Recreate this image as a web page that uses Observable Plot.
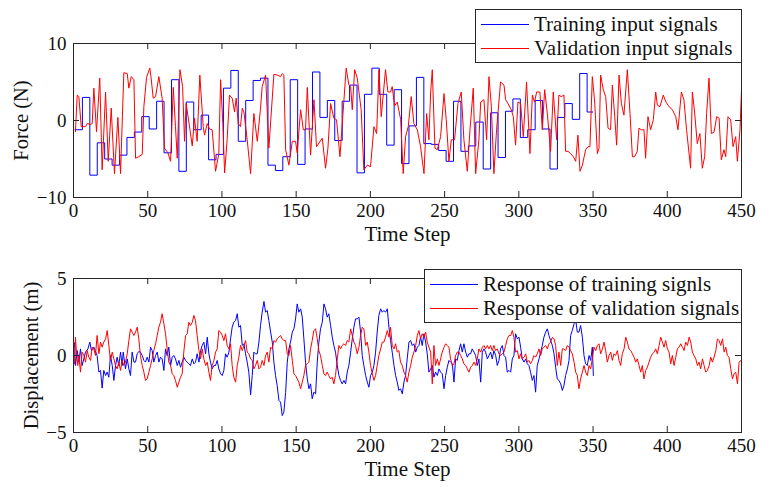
<!DOCTYPE html>
<html>
<head>
<meta charset="utf-8">
<script src="https://cdn.jsdelivr.net/npm/d3@7"></script>
<script src="https://cdn.jsdelivr.net/npm/@observablehq/plot@0.6"></script>
<style>
  html, body { margin: 0; padding: 0; background: #fff; }
  #wrap { position: relative; width: 758px; height: 487px; background: #fff; overflow: hidden; }
  #wrap svg { position: absolute; left: 0; }
  .legend { position: absolute; background: #fff; border: 1px solid #262626; box-sizing: border-box;
            font-family: "Liberation Serif", serif; font-size: 21px; color: #111; }
  .legend .row { position: absolute; left: 0; height: 25px; display: flex; align-items: center; white-space: nowrap; }
  .legend .sw { display: inline-block; width: 48px; height: 1px; margin-left: 5px; margin-right: 5px; }
</style>
</head>
<body>
<div id="wrap"></div>
<script>
// ---------- tick labels / names ----------
const xTicks = [0, 50, 100, 150, 200, 250, 300, 350, 400, 450];
const forceTicks = [-10, 0, 10];
const dispTicks = [-5, 0, 5];
const topNames = ["Training input signals", "Validation input signals"];
const bottomNames = ["Response of training signls", "Response of validation signals"];
const seriesColors = ["#0000ff", "#ff0000"];

// ---------- top panel: training input (held steps: [start step, force]) ----------
const trainInput = [
[1,-1.2],[6,3.0],[11,-7.1],[16,-2.9],[21,-5.0],[26,-5.8],[31,-4.5],[36,-2.2],[41,-1.5],[46,0.5],
[51,-1.1],[56,2.5],[61,-4.2],[66,5.3],[71,-6.6],[76,2.4],[81,-1.2],[86,0.7],[91,-5.1],[96,-4.4],
[101,4.2],[106,6.5],[111,-2.7],[116,2.6],[121,5.2],[126,5.5],[131,-5.8],[136,-6.5],[141,-4.7],[146,5.3],
[151,-5.7],[156,-1.1],[161,6.3],[166,0.4],[171,2.6],[176,-2.6],[181,2.5],[186,4.6],[191,-6.8],[196,3.4],
[201,6.8],[206,3.4],[211,-3.2],[216,4.0],[221,-5.6],[226,-0.7],[231,5.6],[236,-3.0],[241,-3.1],[246,-3.9],
[251,-5.3],[256,2.5],[261,-4.0],[266,-3.3],[271,-0.2],[276,-6.3],[281,1.0],[286,-4.8],[291,1.2],[296,2.8],
[301,-2.2],[306,-1.2],[311,2.6],[316,-1.1],[321,-6.3],[326,0.4],[331,2.2],[336,0.15],[341,6.1],[346,1.1],[350,1.1]
];

// ---------- top panel: validation input ([step, force]) ----------
const validationInput = [
[1.3,-1.45],[2.5,3.3],[3.6,3.1],[5.2,-0.8],[8.1,-0.8],[9.2,-0.4],[11.5,-0.5],[12.6,-0.4],[13.7,4.2],[15.5,-1.45],
[17.7,5.5],[19.3,-6.4],[21.6,3.7],[23.4,-5.3],[25.4,1.6],[27.6,-6.9],[29.9,0.4],[31.7,-6.9],[33.9,6.2],[36.2,6.1],
[37.3,4.2],[38.9,5.7],[40.7,5.3],[41.8,-4.9],[44.0,-4.7],[46.3,-4.4],[47.4,1.8],[49.2,5.6],[51.4,6.8],[52.3,5.5],
[53.7,2.9],[55.3,3.1],[57.5,5.7],[59.7,2.9],[61.3,-3.6],[63.6,-4.2],[65.4,-5.3],[67.2,4.3],[68.7,-0.8],[69.9,-4.9],
[71.7,6.6],[73.5,4.4],[74.8,-2.7],[75.9,2.2],[77.7,-0.2],[80.0,-3.3],[81.5,0.3],[83.3,-2.7],[85.1,5.9],[87.4,-0.8],
[88.3,-1.9],[90.1,-0.4],[91.6,-1.1],[93.4,-1.2],[95.7,-6.6],[97.9,-4.3],[99.1,5.3],[100.6,-0.4],[101.8,-6.8],[103.5,-2.5],
[105.1,3.3],[106.9,2.9],[108.5,1.1],[109.6,2.9],[111.0,-0.4],[112.5,-0.8],[113.7,1.6],[114.8,1.1],[117.0,-2.5],[119.3,-6.9],
[121.5,0.9],[123.8,-2.7],[126.0,1.6],[127.1,4.4],[129.4,5.9],[131.6,-3.6],[135.0,6.0],[137.2,5.9],[139.5,5.7],[140.6,6.1],
[141.7,5.9],[142.9,-3.8],[145.1,-5.8],[147.4,-2.7],[149.6,-2.7],[150.7,-4.2],[153.0,1.4],[154.8,-1.2],[156.3,-1.2],[157.5,4.3],
[159.7,-4.5],[162.0,2.7],[163.7,-3.4],[167.6,-2.3],[169.8,-6.2],[171.4,-3.6],[173.2,2.2],[175.4,0.3],[177.2,0.1],[179.5,-4.7],
[182.2,2.7],[183.7,6.8],[185.5,4.6],[186.7,4.4],[187.8,1.4],[189.4,6.6],[191.2,5.5],[192.3,3.7],[193.8,1.4],[195.6,-6.4],
[197.9,-5.8],[200.1,-6.0],[202.4,-0.8],[204.2,-1.7],[205.8,6.6],[207.3,0.5],[210.2,6.6],[211.8,3.7],[213.6,3.7],[214.7,4.4],
[216.3,1.9],[218.1,2.4],[220.4,0.1],[222.1,-6.9],[223.7,-2.1],[225.5,-0.8],[227.5,3.1],[229.3,-0.4],[231.6,-1.2],[233.8,-3.4],
[236.1,-6.9],[237.9,0.9],[239.4,-2.5],[240.6,3.7],[241.7,6.6],[243.5,-3.6],[245.1,-3.8],[247.3,-2.1],[249.6,3.5],[251.1,0.1],
[252.9,-5.3],[254.5,-2.5],[256.7,-2.5],[259.0,2.2],[261.2,3.7],[263.0,-2.5],[265.3,-6.6],[267.1,-1.2],[269.3,4.2],[270.9,-6.9],
[273.1,-2.5],[274.3,2.4],[276.5,2.7],[278.3,-2.5],[279.9,5.7],[281.5,1.8],[283.2,-6.9],[285.0,-1.2],[287.7,5.0],[290.0,4.6],
[291.1,2.7],[293.3,2.0],[294.9,1.4],[296.3,0.5],[297.8,-3.2],[299.4,2.4],[301.2,2.2],[303.0,-2.1],[305.2,5.0],[307.5,-4.3],
[309.1,3.3],[310.6,2.4],[312.0,3.7],[314.2,3.7],[315.8,-1.2],[317.4,4.0],[319.2,0.9],[321.4,-4.0],[323.2,3.7],[325.5,-2.5],
[327.0,3.3],[328.6,3.1],[330.4,3.3],[331.5,-4.0],[333.1,-4.0],[334.9,-4.3],[336.7,-4.7],[338.3,-5.3],[339.8,-1.9],[341.2,-6.6],
[342.8,-5.8],[345.0,-3.8],[346.6,-3.4],[347.9,-3.4],[349.5,5.7],[351.1,2.4],[352.9,-4.3],[354.0,-3.6],[355.1,5.9],[356.9,4.0],
[358.5,3.1],[360.1,-1.0],[361.8,-1.2],[363.0,4.6],[364.6,0.5],[365.9,-3.2],[367.5,5.9],[369.1,2.2],[370.8,0.7],[373.1,6.6],
[374.9,0.9],[376.5,-4.7],[378.0,-4.7],[379.8,-4.0],[380.9,-1.0],[382.5,-1.2],[384.3,-1.2],[385.4,-4.9],[387.0,0.5],[388.8,-1.2],
[390.6,0.1],[392.2,3.7],[393.3,2.0],[395.1,1.8],[397.3,3.3],[399.1,2.4],[401.2,1.8],[403.4,1.4],[405.7,0.5],[407.2,-1.2],
[409.5,3.7],[411.2,2.7],[413.0,-1.2],[415.7,-6.2],[416.9,3.7],[418.4,1.1],[420.2,-3.0],[422.0,-1.7],[423.6,-6.2],[425.2,-4.7],
[426.5,0.9],[428.1,5.5],[429.7,-1.7],[431.5,-1.5],[433.3,0.5],[434.9,0.3],[436.4,-5.1],[438.2,-3.8],[439.4,-4.7],[440.9,0.5],
[442.7,0.1],[444.3,-3.4],[446.1,-2.1],[447.2,-5.3],[449.0,-1.2],[450,4.0]
];

// ---------- bottom panel: response of training signals ([step, displacement]) ----------
const trainResponse = [
[0.7,0.82],[1.3,-0.65],[2.5,0.32],[3.6,-0.43],[4.7,0.43],[5.8,-0.65],[8.1,0.22],[9.7,0.43],[11.0,0.87],[12.1,0.32],
[13.7,0.54],[15.9,0],[17.1,-1.08],[18.2,-0.97],[19.3,-2.12],[20.4,-0.97],[21.6,-1.30],[22.7,-1.08],[23.8,-1.41],[24.9,0],
[26.1,-0.65],[27.2,-1.62],[28.3,-0.65],[29.4,-0.11],[30.5,-0.65],[31.7,0.22],[32.8,-0.65],[33.5,0.22],[35.0,-0.87],[36.2,-0.22],
[37.3,-0.87],[38.4,-1.30],[39.5,0.22],[40.7,-0.43],[41.8,-0.43],[42.9,0.11],[44.0,0.26],[45.1,0.22],[46.3,0],[47.4,-0.32],
[48.5,-0.43],[49.6,-0.11],[50.8,-0.43],[51.9,0.54],[53.0,0.32],[54.1,-0.43],[55.3,0],[56.4,0.22],[57.5,-0.43],[58.6,-0.11],
[59.7,-0.22],[60.9,-0.97],[62.0,0.43],[63.1,0],[64.2,0.54],[65.4,-0.65],[66.5,-0.11],[67.6,0],[68.7,-0.22],[69.9,-0.65],
[71.0,-0.32],[72.1,-0.76],[73.2,-0.43],[74.3,-0.11],[75.5,-0.32],[76.6,-0.43],[77.7,-0.54],[78.8,-0.65],[80.0,-0.22],[81.1,-0.54],
[82.2,-0.43],[83.3,0.11],[84.5,-0.43],[85.6,0.32],[86.7,0.65],[87.8,0.87],[89.0,0.11],[90.1,1.19],[91.2,0.11],[92.3,-0.43],
[93.4,-0.87],[94.6,-0.65],[95.7,-0.65],[96.8,-0.32],[97.9,-0.87],[99.1,-1.19],[100.2,-1.30],[101.3,-0.97],[102.4,0.11],[103.5,-0.11],
[104.7,0.22],[105.8,1.08],[106.9,1.84],[108.0,2.16],[109.2,2.27],[110.3,2.71],[111.4,1.84],[112.5,1.95],[113.7,0.65],[114.8,0.76],
[115.9,0.11],[117.0,-0.43],[118.1,-1.08],[119.3,-2.55],[120.4,-1.30],[121.5,0.22],[122.6,0.11],[123.8,0.11],[124.9,0.87],[126.0,1.95],
[127.1,2.81],[128.3,3.51],[129.4,2.81],[130.5,2.92],[131.6,2.27],[132.8,1.52],[133.9,0.87],[135.0,-0.43],[136.1,-1.30],[137.2,-1.95],
[138.4,-2.92],[139.5,-3.03],[140.6,-3.90],[141.7,-3.68],[142.9,-2.4],[144.0,-0.43],[145.1,0.43],[146.2,0.87],[147.4,1.52],[148.5,1.73],
[149.6,2.38],[150.7,3.35],[151.8,2.81],[153.0,3.03],[154.1,2.49],[155.2,1.08],[156.3,-0.43],[157.5,-1.52],[158.6,-2.16],[159.7,-1.84],
[160.8,-2.81],[161.9,-2.38],[163.1,-2.49],[164.2,-0.43],[165.3,0.87],[166.4,1.73],[167.6,2.16],[168.7,3.35],[169.8,3.03],[170.9,2.49],
[172.0,2.71],[173.2,1.95],[174.3,1.19],[175.4,0.65],[176.5,0.22],[177.7,-0.65],[178.8,-1.30],[179.9,-1.62],[181.0,-1.84],[182.2,-1.62],
[183.3,-1.84],[184.4,-1.08],[185.5,-0.65],[186.7,0.22],[187.8,1.08],[188.9,1.84],[190.0,2.38],[191.1,2.38],[192.3,2.49],[193.4,1.52],
[194.5,0],[195.6,-0.65],[196.8,-1.30],[197.9,-1.73],[199.0,-2.06],[200.1,-1.30],[201.3,-1.08],[202.4,-0.65],[203.5,0.22],[204.6,1.52],
[205.7,2.60],[206.9,3.03],[208.0,2.81],[209.1,2.92],[210.2,2.81],[211.4,3.03],[212.5,1.84],[213.6,0.97],[214.7,0.22],[215.9,-0.65],
[217.0,-1.30],[218.1,-1.73],[219.2,-2.27],[220.3,-2.16],[221.5,-2.49],[222.6,-1.73],[223.7,-1.30],[224.8,-0.22],[226.0,0.87],[227.1,0.97],
[228.2,0.65],[229.3,0.76],[230.5,0.22],[231.6,0.54],[232.7,0.65],[233.8,1.19],[234.9,0.65],[236.1,1.41],[237.2,0.87],[238.3,0.11],
[239.4,-1.08],[240.6,-0.87],[241.7,-0.65],[242.8,-1.41],[243.9,-1.08],[245.1,-1.30],[246.2,-0.87],[247.3,-1.08],[248.4,-1.19],[249.6,-2.16],
[250.7,-1.30],[251.8,-0.76],[252.9,-0.32],[254.0,-0.43],[255.2,-0.54],[256.3,-1.73],[257.4,-0.22],[258.5,-0.32],[259.7,0.32],[260.8,0.76],
[261.9,0.22],[263.0,0.76],[264.2,0.22],[265.3,-0.11],[266.4,0.11],[267.5,0.11],[268.6,0.43],[269.8,0.22],[270.9,0],[272.0,-0.65],
[273.1,-0.22],[274.3,-1.73],[275.4,0.22],[276.5,0.43],[277.6,0.22],[278.8,-0.22],[279.9,0],[281.0,0.22],[282.1,-0.22],[283.2,0.32],
[284.4,0],[285.5,-0.65],[286.6,-0.32],[287.7,0.43],[288.9,0.65],[290.0,0],[291.1,-0.11],[292.2,-1.08],[293.4,-0.97],[294.5,-1.08],
[295.6,-0.22],[296.7,0],[297.8,1.41],[299.0,1.08],[300.1,1.19],[301.2,0.54],[302.3,-0.22],[303.5,-0.43],[304.6,-0.22],[305.7,-0.54],
[306.8,-0.65],[307.9,-1.08],[309.1,-1.62],[310.2,-1.30],[311.3,-2.38],[312.4,-0.65],[313.6,-0.22],[314.7,0.22],[315.8,0.65],[316.9,1.19],
[318.1,1.52],[319.2,1.73],[320.3,1.30],[321.4,0.97],[322.6,0.65],[323.7,0.11],[324.8,-0.76],[325.9,-1.52],[327.0,-1.62],[328.2,-1.84],
[329.3,-2.27],[330.4,-1.95],[331.5,-1.30],[332.7,-0.87],[333.8,-0.32],[334.9,1.30],[336.0,1.62],[337.2,2.06],[338.3,2.3],[339.4,1.52],
[340.5,1.52],[341.6,1.95],[342.8,1.19],[343.9,0],[345.0,-0.54],[346.1,-0.65],[347.3,0],[348.4,-0.32],[349.5,0.54],[350.2,-1.30]
];

// ---------- bottom panel: response of validation signals ([step, displacement]) ----------
const validationResponse = [
[0.7,-0.54],[1.3,1.19],[2.0,0.22],[2.9,-0.65],[3.6,0],[4.7,-1.08],[5.8,0.22],[7.0,0],[8.1,-0.43],[9.2,0.32],
[10.3,-0.11],[11.5,-0.32],[12.6,0.54],[13.7,0.43],[14.8,0],[15.9,1.30],[17.1,0.11],[18.2,0.87],[19.3,0.54],[20.4,0.87],
[21.6,1.08],[22.7,1.62],[23.8,0.65],[24.9,-0.32],[26.1,0.22],[27.2,-0.22],[28.3,-0.65],[29.4,-0.87],[30.5,-0.43],[31.7,-0.97],
[32.8,-0.32],[33.9,-0.65],[35.0,-0.43],[36.2,0.11],[37.3,0.97],[38.4,1.73],[39.5,1.52],[40.7,1.30],[41.8,1.52],[42.9,1.84],
[44.0,1.08],[45.1,0],[46.3,-0.65],[47.4,-1.08],[48.5,-1.62],[49.6,-1.52],[50.8,-1.08],[51.9,-0.65],[53.0,-0.22],[54.1,0.32],
[55.3,0.76],[56.4,1.30],[57.5,1.84],[58.6,2.16],[59.7,2.71],[60.9,2.06],[62.0,1.41],[63.1,0.43],[64.2,-0.43],[65.4,-0.65],
[66.5,-1.19],[67.6,-1.30],[68.7,-1.62],[69.9,-2.06],[71.0,-1.73],[72.1,-1.41],[73.2,-1.19],[74.3,0.22],[75.5,1.30],[76.6,1.41],
[77.7,2.16],[78.8,1.95],[80.0,2.16],[81.1,2.60],[82.2,2.27],[83.3,1.30],[84.5,0.32],[85.6,-0.22],[86.7,0.43],[87.8,-0.22],
[89.0,-0.65],[90.1,-0.43],[91.2,-1.08],[92.3,-1.62],[93.4,-0.65],[94.6,-0.32],[95.7,0.22],[96.8,0.43],[97.9,1.62],[99.1,1.52],
[100.2,1.30],[101.3,0.97],[102.4,1.41],[103.5,0.65],[104.7,0.43],[105.8,0.76],[106.9,-0.65],[108.0,-1.41],[109.2,-1.73],[110.3,-0.65],
[111.4,-0.11],[112.5,0.65],[113.7,0.32],[114.8,0.65],[115.9,0.97],[117.0,0.22],[118.1,0.11],[119.3,-0.22],[120.4,-0.32],[121.5,-0.87],
[122.6,-0.65],[123.8,-0.32],[124.9,-0.87],[126.0,-0.76],[127.1,-0.32],[128.3,-0.65],[129.4,0],[130.5,0.22],[131.6,-0.43],[132.8,0.54],
[133.9,0.43],[135.0,0.97],[136.1,0.87],[137.2,1.08],[138.4,1.19],[139.5,1.30],[140.6,1.08],[141.7,0.97],[142.9,0.97],[144.0,0.11],
[145.1,0],[146.2,0.65],[147.4,-0.32],[148.5,-1.19],[149.6,-1.30],[150.7,-1.52],[151.8,-1.73],[153.0,-2.16],[154.1,-1.73],[155.2,-1.30],
[156.3,-0.65],[157.5,-0.54],[158.6,-0.43],[159.7,0.43],[160.8,0.97],[161.9,1.62],[163.1,1.73],[164.2,1.08],[165.3,0.32],[166.4,0],
[167.6,-0.65],[168.7,-1.19],[169.8,-1.30],[170.9,-1.08],[172.0,-1.30],[173.2,-1.52],[174.3,-1.41],[175.4,-1.84],[176.5,-1.30],[177.7,-0.22],
[178.8,0.65],[179.9,0.43],[181.0,0.65],[182.2,0.76],[183.3,0.65],[184.4,0.97],[185.5,0.87],[186.7,1.73],[187.8,1.30],[188.9,0.87],
[190.0,0.65],[191.1,0.11],[192.3,0.54],[193.4,1.30],[194.5,1.84],[195.6,1.73],[196.8,0.65],[197.9,0.87],[199.0,0.22],[200.1,-0.65],
[201.3,-1.19],[202.4,-1.62],[203.5,-1.30],[204.6,-0.65],[205.7,0],[206.9,0.43],[208.0,0.87],[209.1,0.87],[210.2,1.19],[211.4,1.62],
[212.5,1.19],[213.6,1.84],[214.7,0.65],[215.9,0.43],[217.0,0.76],[218.1,0.22],[219.2,0.32],[220.3,-0.43],[221.5,-0.65],[222.6,-1.08],
[223.7,-1.30],[224.8,-1.73],[226.0,-1.08],[227.1,-0.65],[228.2,-0.11],[229.3,0.22],[230.5,0.65],[231.6,1.30],[232.7,1.62],[233.8,1.08],
[234.9,1.41],[236.1,1.19],[237.2,1.52],[238.3,0.87],[239.4,0.54],[240.6,0.22],[241.7,-1.84],[242.8,0.65],[243.9,-0.65],[245.1,-0.22],
[246.2,-0.65],[247.3,-0.22],[248.4,0.22],[249.6,0.54],[250.7,0.76],[251.8,0.65],[252.9,0.54],[254.0,-0.22],[255.2,-0.65],[256.3,-0.54],
[257.4,0],[258.5,0.22],[259.7,0.22],[260.8,0],[261.9,-0.22],[263.0,-0.54],[264.2,-0.65],[265.3,-0.87],[266.4,-1.08],[267.5,-0.76],
[268.6,-0.65],[269.8,-0.43],[270.9,-0.65],[272.0,-0.22],[273.1,0.43],[274.3,0.22],[275.4,0.54],[276.5,0.65],[277.6,0.43],[278.8,0.65],
[279.9,0.43],[281.0,0.65],[282.1,0.32],[283.2,0.65],[284.4,0.32],[285.5,0.43],[286.6,0.11],[287.7,0],[288.9,0.11],[290.0,0.22],
[291.1,0.65],[292.2,1.08],[293.4,1.30],[294.5,1.30],[295.6,1.62],[296.7,1.19],[297.8,0.22],[299.0,0.32],[300.1,-0.22],[301.2,0.11],
[302.3,-0.22],[303.5,-0.11],[304.6,0.11],[305.7,-0.43],[306.8,-0.32],[307.9,-0.54],[309.1,-0.32],[310.2,0],[311.3,-0.11],[312.4,0.11],
[313.6,0.43],[314.7,0],[315.8,0.43],[316.9,0.54],[318.1,0.65],[319.2,0.43],[320.3,0.76],[321.4,0.87],[322.6,1.19],[323.7,1.08],
[324.8,0.65],[325.9,-0.65],[327.0,0.22],[328.2,-0.65],[329.3,0.43],[330.4,0.43],[331.5,0.32],[332.7,0.65],[333.8,0.54],[334.9,0.32],
[336.0,0.11],[337.2,-0.43],[338.3,-1.08],[339.4,-1.30],[340.5,-2.16],[341.6,-1.52],[342.8,-1.08],[343.9,-0.65],[345.0,-1.08],[346.1,-1.30],
[347.3,-0.65],[348.4,-0.87],[349.5,-0.22],[350.6,0.54],[351.8,0.32],[352.9,0.65],[354.0,0.76],[355.1,0.11],[356.3,0.43],[357.4,0.87],
[358.5,0.32],[359.6,-0.43],[360.8,0],[361.9,0.22],[363.0,-0.32],[364.1,0.11],[365.2,0],[366.4,0.32],[367.5,-0.32],[368.6,-0.65],
[369.7,0.11],[370.9,0.43],[372.0,1.19],[373.1,0.87],[374.2,0.43],[375.4,0.32],[376.5,0.11],[377.6,-0.11],[378.7,-0.43],[379.8,-0.22],
[381.0,-0.65],[382.1,-1.08],[383.2,-0.65],[384.3,-1.52],[385.5,-0.97],[386.6,-0.76],[387.7,-0.43],[388.8,-0.11],[390.0,0.11],[391.1,0.22],
[392.2,0.43],[393.3,0.11],[394.5,0.65],[395.6,1.19],[396.7,0.87],[397.8,0.54],[398.9,0.97],[400.1,0.43],[401.2,0.22],[402.3,-0.54],
[403.4,0],[404.6,-0.65],[405.7,-0.11],[406.8,0.43],[407.9,0.54],[409.1,0.76],[410.2,0.54],[411.3,0.32],[412.4,0.87],[413.6,0.65],
[414.7,1.19],[415.8,0.87],[416.9,0.22],[418.0,0],[419.2,-0.22],[420.3,-0.65],[421.4,-0.43],[422.5,-0.87],[423.7,-0.22],[424.8,-0.65],
[425.9,-1.08],[427.0,-0.97],[428.2,-0.65],[429.3,-0.11],[430.4,-0.43],[431.5,-0.11],[432.7,0.32],[433.8,1.08],[434.9,0.97],[436.0,0.65],
[437.2,1.08],[438.3,0.22],[439.4,0.54],[440.5,0],[441.6,-0.11],[442.8,-0.87],[443.9,-1.52],[445.0,-1.19],[446.1,-1.08],[447.3,-1.84],
[448.4,-0.43],[449.5,-0.32],[450,-0.43]
];

// ---------- drawing ----------
const W = 758;
const FRAME_W = 668;   // 758 - 73 - 17
const FRAME_H = 154;
const TICK = 6;
const axisColor = "#262626";
const textColor = "#111";
const fmt = d => (d < 0 ? "\u2212" + (-d) : String(d));

function panel({height, marginTop, marginBottom, yDomain, yTicks, yLabel, yLabelDx, blue, red, blueCurve}) {
  return Plot.plot({
    width: W, height, marginLeft: 73, marginRight: 17, marginTop, marginBottom,
    x: {domain: [0, 450], axis: null},
    y: {domain: yDomain, axis: null},
    style: {fontFamily: "'Liberation Serif', serif", fontSize: "19px", color: textColor, background: "transparent", overflow: "visible"},
    marks: [
      Plot.line(blue, {x: d => d[0], y: d => d[1], stroke: seriesColors[0], strokeWidth: 1, curve: blueCurve}),
      Plot.line(red, {x: d => d[0], y: d => d[1], stroke: seriesColors[1], strokeWidth: 1}),
      Plot.ruleX(xTicks, {x: d => d, stroke: axisColor, insetTop: FRAME_H - TICK}),
      Plot.ruleX(xTicks, {x: d => d, stroke: axisColor, insetBottom: FRAME_H - TICK}),
      Plot.ruleY(yTicks, {y: d => d, stroke: axisColor, insetRight: FRAME_W - TICK}),
      Plot.ruleY(yTicks, {y: d => d, stroke: axisColor, insetLeft: FRAME_W - TICK}),
      Plot.frame({stroke: axisColor, strokeWidth: 1}),
      Plot.text(xTicks, {x: d => d, frameAnchor: "bottom", dy: 19, text: d => fmt(d), fill: textColor, fontSize: 19}),
      Plot.text(yTicks, {y: d => d, frameAnchor: "left", dx: -7, textAnchor: "end", text: d => fmt(d), fill: textColor, fontSize: 19}),
      Plot.text(["Time Step"], {frameAnchor: "bottom", dy: 43, textAnchor: "middle", text: d => d, fill: textColor, fontSize: 21}),
      Plot.text([yLabel], {frameAnchor: "left", dx: yLabelDx, rotate: -90, textAnchor: "middle", text: d => d, fill: textColor, fontSize: 20.5})
    ]
  });
}

const wrap = document.getElementById("wrap");

const topPlot = panel({height: 255, marginTop: 43, marginBottom: 58, yDomain: [-10, 10], yTicks: forceTicks,
  yLabel: "Force (N)", yLabelDx: -52, blue: trainInput, red: validationInput, blueCurve: "step-after"});
topPlot.style.top = "0px";
wrap.appendChild(topPlot);

const bottomPlot = panel({height: 232, marginTop: 23, marginBottom: 55, yDomain: [-5, 5], yTicks: dispTicks,
  yLabel: "Displacement (m)", yLabelDx: -42, blue: trainResponse, red: validationResponse, blueCurve: "linear"});
bottomPlot.style.top = "255px";
wrap.appendChild(bottomPlot);

function legend(names, box, rowTops) {
  const div = document.createElement("div");
  div.className = "legend";
  Object.assign(div.style, {left: box[0] + "px", top: box[1] + "px", width: box[2] + "px", height: box[3] + "px"});
  names.forEach((name, i) => {
    const row = document.createElement("div");
    row.className = "row";
    row.style.top = rowTops[i] + "px";
    const sw = document.createElement("span");
    sw.className = "sw";
    sw.style.background = seriesColors[i];
    const tx = document.createElement("span");
    tx.textContent = name;
    row.appendChild(sw);
    row.appendChild(tx);
    div.appendChild(row);
  });
  wrap.appendChild(div);
}
legend(topNames, [475, 9, 267, 54], [2, 26]);
legend(bottomNames, [424, 269, 318, 54], [2, 26]);
</script>
</body>
</html>
